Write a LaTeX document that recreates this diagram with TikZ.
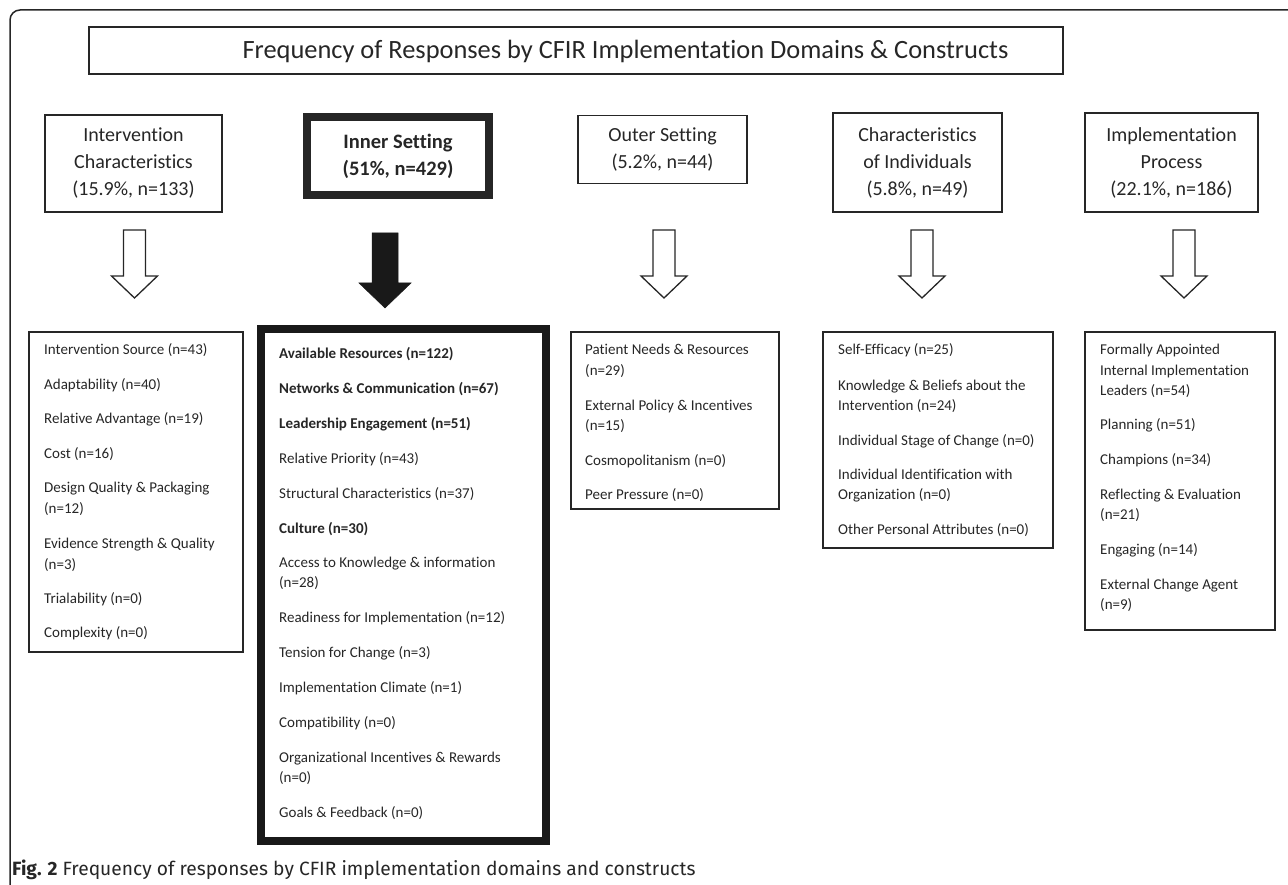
\documentclass[tikz,border=0pt]{standalone}
\usepackage{fontspec}
\setmainfont{Carlito}[Ligatures=NoCommon]
\newfontfamily\capfont{Fira Sans}
\begin{document}
\begin{tikzpicture}[x=1pt,y=-1pt,
  ln/.style={draw=black!85, line width=1.3pt},
  dom/.style={ln, align=center, font=\fontsize{20}{27}\selectfont, inner sep=0pt, text=black!85},
  item/.style={anchor=base west, inner sep=0pt, font=\fontsize{15}{18}\selectfont, text=black!85},
  cbox/.style={ln},
  warr/.style={draw=black!85, line width=1.3pt, fill=white, line join=miter},
  barr/.style={fill=black!90, draw=black!90, line width=0.5pt},
  blockarrow/.pic={
    \path[pic actions] (-\shafthalf,0) -- (\shafthalf,0) -- (\shafthalf,\headstart) -- (\headhalf,\headstart)
      -- (0,\tiplen) -- (-\headhalf,\headstart) -- (-\shafthalf,\headstart) -- cycle;
  },
]
\useasboundingbox (0,0) rectangle (1288,885);
% outer frame (top-left corner only visible)
\draw[line width=1.5pt, draw=black!85, rounded corners=10pt] (10,886) -- (10,10) -- (1289,10);

% title
\node[ln, minimum width=974, minimum height=47, inner sep=0pt] (titlebox) at (576,50.5) {};
\node[inner sep=0pt, font=\fontsize{26.4}{30}\selectfont, text=black!85] (titletext) at (625.5,51) {Frequency of Responses by CFIR Implementation Domains \& Constructs};

% domains
\node[dom, minimum width=177, minimum height=97] (d1) at (133.5,163.5) {Intervention\\Characteristics\\(15.9\%, n=133)};
\node[dom, line width=8pt, font=\bfseries\fontsize{20.5}{27}\selectfont, minimum width=182, minimum height=78] (d2) at (398,156) {Inner Setting\\(51\%, n=429)};
\node[dom, minimum width=169, minimum height=68] (d3) at (662.5,149.5) {Outer Setting\\(5.2\%, n=44)};
\node[dom, minimum width=169, minimum height=99] (d4) at (917.5,162.5) {Characteristics\\of Individuals\\(5.8\%, n=49)};
\node[dom, minimum width=173, minimum height=99] (d5) at (1171.5,162.5) {Implementation\\Process\\(22.1\%, n=186)};

% block arrows
\def\shafthalf{11}\def\headhalf{23}\def\headstart{46}\def\tiplen{68}
\pic[warr] (a1) at (134.5,230) {blockarrow};
\pic[warr] (a3) at (664,230) {blockarrow};
\pic[warr] (a4) at (922,230) {blockarrow};
\pic[warr] (a5) at (1184,230) {blockarrow};
\def\shafthalf{13}\def\headhalf{26}\def\headstart{50}\def\tiplen{75}
\pic[barr] (a2) at (385,233) {blockarrow};

% construct boxes
\draw[cbox] (29,332) rectangle (243,652) coordinate (c1);
\draw[draw=black!90, line width=8pt] (261,329) rectangle (546,841) coordinate (c2);
\draw[cbox] (571,332) rectangle (779,509) coordinate (c3);
\draw[cbox] (823,332) rectangle (1053,548) coordinate (c4);
\draw[cbox] (1085,332) rectangle (1275,630) coordinate (c5);

% items: Intervention Characteristics
\foreach \y/\t [count=\i] in {
  355/Intervention Source (n=43),
  389.4/Adaptability (n=40),
  423.8/Relative Advantage (n=19),
  458.2/Cost (n=16),
  492.6/Design Quality \& Packaging,
  513.6/(n=12),
  548/Evidence Strength \& Quality,
  569/(n=3),
  603.4/Trialability (n=0),
  637.8/Complexity (n=0)}
  \node[item] (i1-\i) at (44,\y) {\t};

% items: Inner Setting
\foreach \y/\t [count=\i] in {
  358.5/\textbf{Available Resources (n=122)},
  393.4/\textbf{Networks \& Communication (n=67)},
  428.3/\textbf{Leadership Engagement (n=51)},
  463.2/Relative Priority (n=43),
  498.1/Structural Characteristics (n=37),
  533/\textbf{Culture (n=30)},
  567.9/Access to Knowledge \& information,
  587.9/(n=28),
  622.8/Readiness for Implementation (n=12),
  657.7/Tension for Change (n=3),
  692.6/Implementation Climate (n=1),
  727.5/Compatibility (n=0),
  762.4/Organizational Incentives \& Rewards,
  782.4/(n=0),
  817.3/Goals \& Feedback (n=0)}
  \node[item] (i2-\i) at (279,\y) {\t};

% items: Outer Setting
\foreach \y/\t [count=\i] in {
  355/Patient Needs \& Resources,
  375/(n=29),
  410/External Policy \& Incentives,
  430/(n=15),
  465/Cosmopolitanism (n=0),
  499.3/Peer Pressure (n=0)}
  \node[item] (i3-\i) at (585,\y) {\t};

% items: Characteristics of Individuals
\foreach \y/\t [count=\i] in {
  355/Self-Efficacy (n=25),
  390/Knowledge \& Beliefs about the,
  410/Intervention (n=24),
  445/Individual Stage of Change (n=0),
  479.3/Individual Identification with,
  499.3/Organization (n=0),
  534.3/Other Personal Attributes (n=0)}
  \node[item] (i4-\i) at (838,\y) {\t};

% items: Implementation Process
\foreach \y/\t [count=\i] in {
  355/Formally Appointed,
  375/Internal Implementation,
  395/Leaders (n=54),
  429.3/Planning (n=51),
  464.3/Champions (n=34),
  499.3/Reflecting \& Evaluation,
  519.3/(n=21),
  554.3/Engaging (n=14),
  589.3/External Change Agent,
  609.3/(n=9)}
  \node[item] (i5-\i) at (1100,\y) {\t};

% caption
\node[anchor=base west, inner sep=0pt, font=\capfont\fontsize{19.2}{22}\selectfont, text=black!85] (caption) at (12,875)
  {\textbf{Fig. 2} Frequency of responses by CFIR implementation domains and constructs};
\end{tikzpicture}
\end{document}
